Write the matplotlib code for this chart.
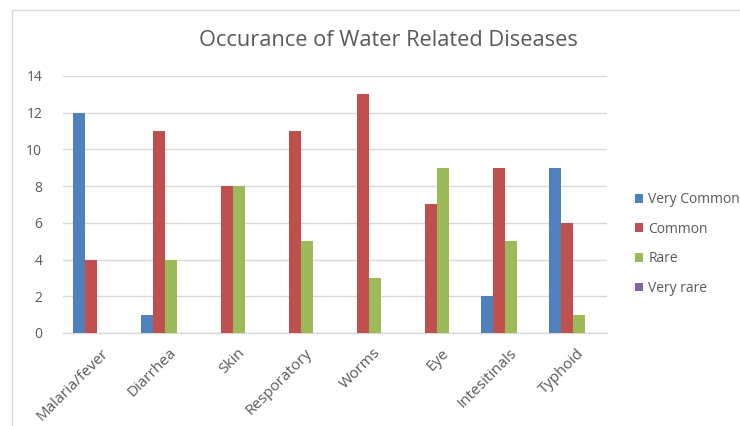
import numpy as np
import matplotlib
matplotlib.use("Agg")
import matplotlib.pyplot as plt
import matplotlib.transforms as mtransforms
from matplotlib.patches import Rectangle

# --- data ---
diseases = ["Malaria/fever", "Diarrhea", "Skin", "Resporatory", "Worms",
            "Eye", "Intesitinals", "Typhoid"]
very_common = [12, 1, 0, 0, 0, 0, 2, 9]
common = [4, 11, 8, 11, 13, 7, 9, 6]
rare = [0, 4, 8, 5, 3, 9, 5, 1]
very_rare = [0, 0, 0, 0, 0, 0, 0, 0]

series = {
    "Very Common": very_common,
    "Common": common,
    "Rare": rare,
    "Very rare": very_rare,
}
colors = ["#4f81bd", "#c0504d", "#9bbb59", "#8064a2"]

plt.rcParams["font.family"] = ["Open Sans", "DejaVu Sans"]
txt = "#595959"

fig = plt.figure(figsize=(7.4, 4.26), dpi=100)
ax = fig.add_axes([63 / 740, 1 - 333 / 426, 544 / 740, (333 - 76) / 426])

# outer chart border
fig.patches.append(Rectangle((12 / 740, -0.1), 1.1, 1 - 10 / 426 + 0.1,
                             transform=fig.transFigure, fill=False,
                             edgecolor="#d9d9d9", linewidth=1))

x = np.arange(len(diseases))
w = 0.176
for i, ((name, vals), c) in enumerate(zip(series.items(), colors)):
    ax.bar(x + (i - 1.5) * w, vals, width=w, color=c, label=name, zorder=3)

ax.set_xlim(-0.5, len(diseases) - 0.5)
ax.set_ylim(0, 14)
ax.set_yticks(range(0, 15, 2))
ax.grid(axis="y", color="#d9d9d9", linewidth=1, zorder=0)
for s in ["top", "right", "left"]:
    ax.spines[s].set_visible(False)
ax.spines["bottom"].set_color("#d9d9d9")
ax.spines["bottom"].set_linewidth(1)
ax.tick_params(axis="both", length=0, colors=txt, labelsize=10)
ax.tick_params(axis="y", pad=15)
ax.tick_params(axis="x", pad=9, labelsize=11)
ax.set_xticks(x)
ax.set_xticklabels(diseases, rotation=45, ha="right", va="top",
                   rotation_mode="anchor")
shift = mtransforms.ScaledTranslation(4 / 100, 0, fig.dpi_scale_trans)
for lab in ax.get_xticklabels():
    lab.set_transform(lab.get_transform() + shift)

fig.text(388 / 740, 1 - 41 / 426, "Occurance of Water Related Diseases",
         ha="center", va="center", fontsize=15.7, color=txt)

ax.legend(loc="center left", bbox_to_anchor=(622 / 740, 1 - 244 / 426),
          bbox_transform=fig.transFigure, frameon=False, fontsize=10,
          handlelength=0.6, handleheight=0.6, handletextpad=0.4,
          labelspacing=1.05, labelcolor=txt)

fig.savefig("out.png", dpi=100)
